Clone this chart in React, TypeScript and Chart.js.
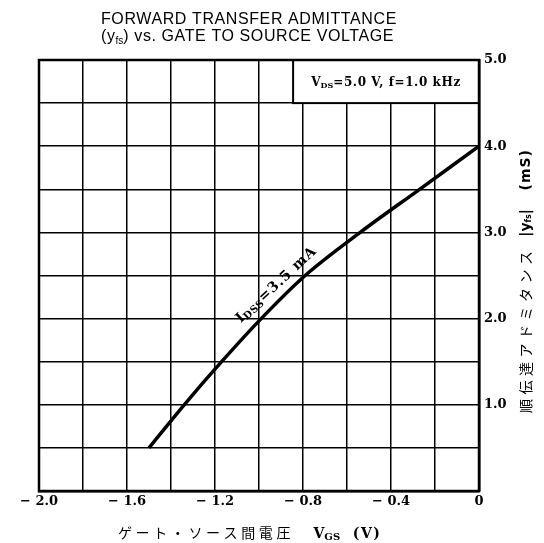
import React, { useEffect, useRef } from 'react';
import { Chart, registerables } from 'chart.js';

Chart.register(...registerables);

// ---- data ----
const vgs = [-1.5, -1.34, -1.17, -0.99, -0.79, -0.54, -0.27, 0];
const yfs = [0.5, 1.0, 1.5, 2.0, 2.5, 3.0, 3.5, 4.0];

const xTickValues = [-2.0, -1.6, -1.2, -0.8, -0.4, 0];
const xTickLabels = ['\u2212 2.0', '\u2212 1.6', '\u2212 1.2', '\u2212 0.8', '\u2212 0.4', '0'];
const yTickValues = [1, 2, 3, 4, 5];
const yTickLabels = ['1.0', '2.0', '3.0', '4.0', '5.0'];

const titleLine1 = 'FORWARD TRANSFER ADMITTANCE';
const titleLine2 = ') vs. GATE TO SOURCE VOLTAGE';
const xTitleJa = 'ゲート・ソース間電圧';
const yTitleJa = '順伝達アドミタンス';
const boxText = '=5.0 V, f=1.0 kHz';
const curveLabel = '=3.5 mA';

type Seg = { t: string; font: string; dy?: number; ls?: number };

function drawSegs(ctx: CanvasRenderingContext2D, segs: Seg[], x: number, y: number, align: 'left' | 'center') {
  const c: any = ctx;
  let total = 0;
  const widths = segs.map((s) => {
    ctx.font = s.font;
    c.letterSpacing = (s.ls || 0) + 'px';
    const w = ctx.measureText(s.t).width;
    total += w;
    return w;
  });
  let cx = align === 'center' ? x - total / 2 : x;
  ctx.textAlign = 'left';
  segs.forEach((s, i) => {
    ctx.font = s.font;
    c.letterSpacing = (s.ls || 0) + 'px';
    ctx.fillText(s.t, cx, y + (s.dy || 0));
    cx += widths[i];
  });
  c.letterSpacing = '0px';
}

function labelFor(v: number, vals: number[], labels: string[]) {
  const i = vals.findIndex((t) => Math.abs(t - v) < 1e-6);
  return i >= 0 ? labels[i] : '';
}

const SERIF_B = (px: number) => `bold ${px}px "DejaVu Serif"`;
const SANS = (px: number) => `${px}px "Liberation Sans"`;
const JA = (px: number) => `${px}px "Noto Sans CJK JP"`;

const overlay = {
  id: 'overlay',
  afterDraw(chart: any) {
    const { ctx, chartArea: a, scales } = chart;
    const xs = scales.x;
    const ys = scales.y;
    ctx.save();
    ctx.fillStyle = '#000';
    ctx.textBaseline = 'alphabetic';

    // title
    drawSegs(ctx, [{ t: titleLine1, font: SANS(16), ls: 0.6 }], 101, 24, 'left');
    drawSegs(
      ctx,
      [
        { t: '(y', font: SANS(16), ls: 0.6 },
        { t: 'fs', font: SANS(10), dy: 3 },
        { t: titleLine2, font: SANS(16), ls: 0.6 },
      ],
      101,
      41,
      'left'
    );

    // legend box
    const bx = xs.getPixelForValue(-0.845);
    const bb = ys.getPixelForValue(4.5);
    ctx.fillStyle = '#fff';
    ctx.fillRect(bx, a.top, a.right - bx, bb - a.top);
    ctx.strokeStyle = '#000';
    ctx.lineWidth = 2;
    ctx.strokeRect(bx, a.top, a.right - bx, bb - a.top);
    ctx.fillStyle = '#000';
    drawSegs(
      ctx,
      [
        { t: 'V', font: SERIF_B(12) },
        { t: 'DS', font: SERIF_B(8), dy: 2 },
        { t: boxText, font: SERIF_B(12), ls: 0.6 },
      ],
      (bx + a.right) / 2,
      (a.top + bb) / 2 + 4,
      'center'
    );

    // plot border
    ctx.lineWidth = 2.5;
    ctx.strokeRect(a.left, a.top, a.right - a.left, a.bottom - a.top);

    // curve label
    const lx = xs.getPixelForValue(-0.92);
    const ly = ys.getPixelForValue(2.39);
    ctx.save();
    ctx.translate(lx, ly);
    ctx.rotate((-43 * Math.PI) / 180);
    ctx.textBaseline = 'middle';
    drawSegs(
      ctx,
      [
        { t: 'I', font: SERIF_B(14) },
        { t: 'DSS', font: SERIF_B(10), dy: 3, ls: 0.5 },
        { t: curveLabel, font: SERIF_B(14), ls: 1 },
      ],
      0,
      0,
      'center'
    );
    ctx.restore();

    // x title
    ctx.textBaseline = 'alphabetic';
    drawSegs(
      ctx,
      [
        { t: xTitleJa, font: JA(14), ls: 3.6 },
        { t: '    V', font: SERIF_B(14) },
        { t: 'GS', font: SERIF_B(10), dy: 2 },
        { t: '  (V)', font: SERIF_B(14), ls: 1.5 },
      ],
      118,
      538,
      'left'
    );

    // y title (vertical)
    ctx.save();
    ctx.translate(526, 281);
    ctx.rotate(-Math.PI / 2);
    ctx.textBaseline = 'middle';
    drawSegs(
      ctx,
      [
        { t: yTitleJa, font: JA(14), ls: 4.5 },
        { t: '  |y', font: 'bold 14px "DejaVu Sans"' },
        { t: 'fs', font: 'bold 8px "DejaVu Sans"', dy: 3 },
        { t: '|   (mS)', font: 'bold 14px "DejaVu Sans"', ls: 1 },
      ],
      0,
      0,
      'center'
    );
    ctx.restore();

    ctx.restore();
  },
};

export default function App() {
  const ref = useRef<HTMLCanvasElement>(null);
  useEffect(() => {
    if (!ref.current) return;
    const chart = new Chart(ref.current, {
      type: 'line',
      data: {
        datasets: [
          {
            data: vgs.map((v, i) => ({ x: v, y: yfs[i] })),
            borderColor: '#000',
            borderWidth: 3.5,
            pointRadius: 0,
            cubicInterpolationMode: 'monotone',
            fill: false,
          },
        ],
      },
      options: {
        animation: false,
        responsive: false,
        devicePixelRatio: 1,
        layout: { padding: { left: 39, top: 60, right: 0, bottom: 0 } },
        plugins: { legend: { display: false }, tooltip: { enabled: false }, title: { display: false } },
        scales: {
          x: {
            type: 'linear',
            min: -2,
            max: 0,
            afterFit: (s: any) => {
              s.height = 52;
            },
            ticks: {
              stepSize: 0.2,
              autoSkip: false,
              maxRotation: 0,
              padding: 3,
              color: '#000',
              font: { family: 'DejaVu Serif', weight: 'bold', size: 13 },
              callback: (v: any) => labelFor(Number(v), xTickValues, xTickLabels),
            },
            grid: { color: '#000', lineWidth: 1.5, drawTicks: false },
            border: { display: true, color: '#000', width: 2.5 },
          },
          y: {
            type: 'linear',
            position: 'right',
            min: 0,
            max: 5,
            afterFit: (s: any) => {
              s.width = 65;
            },
            ticks: {
              stepSize: 0.5,
              autoSkip: false,
              padding: 5,
              color: '#000',
              font: { family: 'DejaVu Serif', weight: 'bold', size: 13 },
              callback: (v: any) => labelFor(Number(v), yTickValues, yTickLabels),
            },
            grid: { color: '#000', lineWidth: 1.5, drawTicks: false },
            border: { display: true, color: '#000', width: 2.5 },
          },
        },
      } as any,
      plugins: [overlay],
    });
    return () => chart.destroy();
  }, []);
  return (
    <div style={{ position: 'fixed', left: 0, top: 0, width: 544, height: 543, background: '#fff' }}>
      <canvas ref={ref} width={544} height={543} style={{ width: 544, height: 543 }} />
    </div>
  );
}
